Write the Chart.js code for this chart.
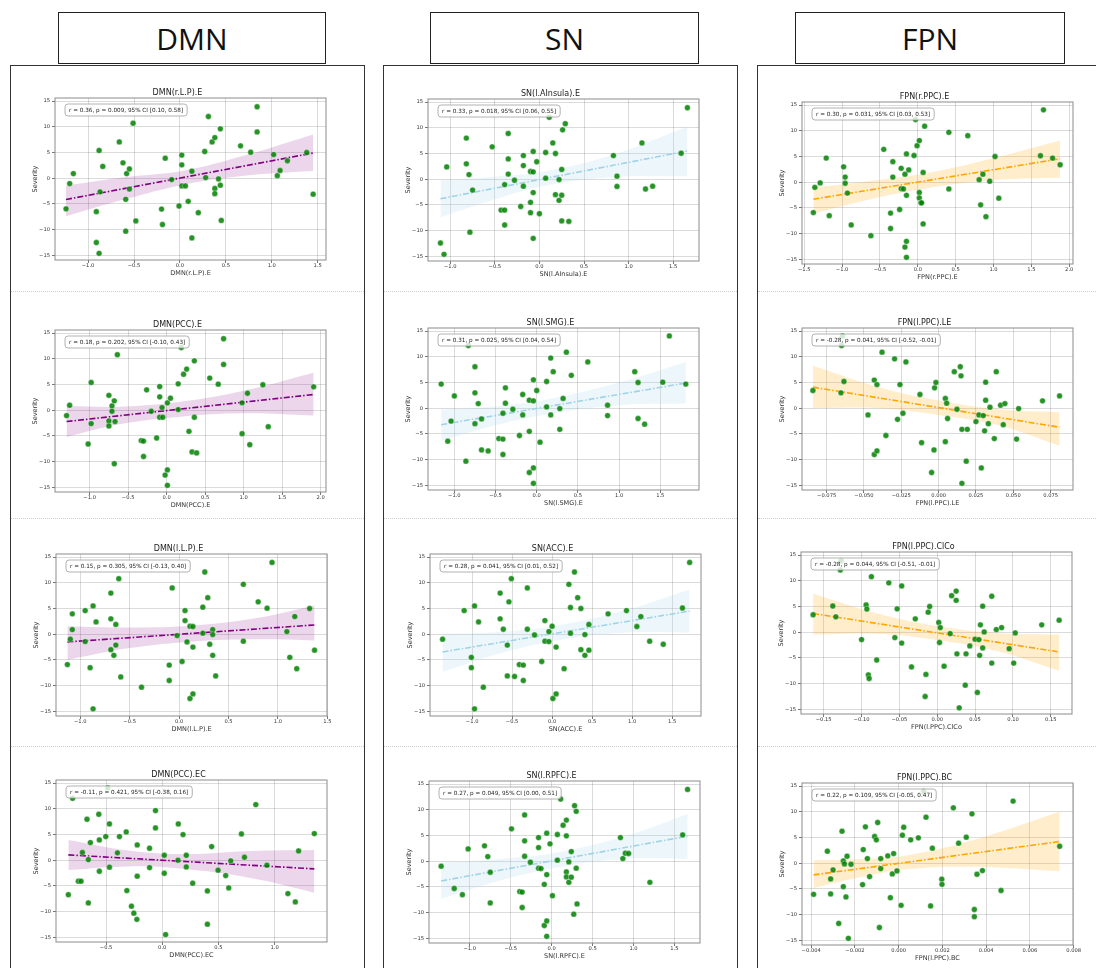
<!DOCTYPE html>
<html>
<head>
<meta charset="utf-8">
<script src="https://cdn.jsdelivr.net/npm/chart.js@4"></script>
<style>
body{margin:0;background:#fff;width:1096px;height:968px;overflow:hidden;position:relative}
.head{position:absolute;top:12px;height:52px;box-sizing:border-box;border:1.5px solid #222;background:#fff;
  font:30px "Open Sans","Liberation Sans",Arial,sans-serif;display:flex;align-items:center;justify-content:center;color:#111}
.panel{position:absolute;top:65px;height:960px;box-sizing:border-box;border:1px solid #333}
.sep{position:absolute;height:0;border-top:1px dotted #cfcfcf}
canvas{position:absolute}
</style>
</head>
<body>
<div class="panel" style="left:10px;width:355px"></div>
<div class="panel" style="left:383px;width:355px"></div>
<div class="panel" style="left:757px;width:345px"></div>
<div class="head" style="left:58px;width:268px">DMN</div>
<div class="head" style="left:430px;width:269px">SN</div>
<div class="head" style="left:795px;width:270px">FPN</div>
<script>
// scatter points [x, severity]
const dmnRLP = [[-1.24,-5.95],[-1.20,-1.04],[-1.16,0.9],[-0.88,5.4],[-0.84,2.3],[-0.87,-2.65],[-0.91,-6.5],[-0.91,-12.5],[-0.88,-14.6],[-0.66,7.05],[-0.62,3.0],[-0.58,0.9],[-0.55,1.8],[-0.55,-2.1],[-0.59,-4.1],[-0.59,-10.3],[-0.51,10.7],[-0.48,-8.3],[-0.20,-6.0],[-0.19,-9.0],[-0.16,3.9],[-0.09,-0.26],[-0.01,-5.4],[0.02,4.5],[0.02,2.6],[0.02,-1.5],[0.06,-1.5],[0.09,-4.5],[0.13,1.36],[0.13,-11.6],[0.20,-6.7],[0.27,5.2],[0.28,0.13],[0.31,12.0],[0.35,7.05],[0.38,7.9],[0.38,-2.0],[0.38,-3.0],[0.42,-0.13],[0.44,9.6],[0.44,-1.36],[0.45,-8.2],[0.66,6.3],[0.77,5.05],[0.84,9.0],[0.84,13.9],[1.02,4.6],[1.06,0.5],[1.09,1.5],[1.17,3.4],[1.38,5.0],[1.45,-3.1]];
const snLAIns = [[-1.11,-12.4],[-1.07,-14.6],[-1.04,2.4],[-0.82,8.0],[-0.82,3.0],[-0.79,0.9],[-0.78,-10.3],[-0.75,-2.1],[-0.53,6.3],[-0.39,-1.04],[-0.35,8.9],[-0.35,3.95],[-0.35,1.0],[-0.43,-6.0],[-0.39,-6.0],[-0.39,-8.9],[-0.28,-0.2],[-0.21,-5.3],[-0.18,4.6],[-0.18,2.66],[-0.18,-1.36],[-0.10,1.5],[-0.07,1.43],[-0.10,-4.5],[-0.10,-6.5],[-0.07,5.4],[-0.07,-2.6],[-0.07,-11.5],[-0.03,3.4],[0.00,-6.7],[0.07,5.2],[0.07,0.2],[0.11,12.05],[0.15,7.06],[0.18,5.0],[0.18,-3.0],[0.22,-0.06],[0.22,-4.1],[0.25,1.9],[0.25,-3.1],[0.25,-8.1],[0.26,9.6],[0.29,10.8],[0.33,-8.2],[0.83,4.6],[0.87,0.6],[0.87,-1.4],[1.15,7.06],[1.19,-1.9],[1.27,-1.36],[1.59,5.05],[1.66,13.9]];
const fpnRPPC = [[-1.38,-5.9],[-1.36,-1.0],[-1.29,-0.13],[-1.21,4.7],[-1.17,-6.5],[-0.98,3.0],[-0.96,1.0],[-0.96,-0.2],[-0.93,-2.1],[-0.88,-8.3],[-0.62,-10.4],[-0.45,6.4],[-0.33,4.0],[-0.33,1.0],[-0.36,-6.0],[-0.36,-9.0],[-0.24,-5.3],[-0.22,2.7],[-0.22,-1.24],[-0.19,-1.3],[-0.17,1.56],[-0.15,5.5],[-0.15,-2.54],[-0.15,-11.5],[-0.17,-12.6],[-0.15,-14.6],[-0.12,2.4],[-0.05,5.2],[-0.03,12.2],[-0.01,7.1],[0.02,8.1],[0.02,-2.0],[0.02,-3.06],[0.04,-4.0],[0.05,-4.0],[0.07,1.9],[0.07,-8.1],[0.09,10.9],[0.41,9.7],[0.41,-1.3],[0.66,9.06],[0.81,0.5],[0.83,-4.4],[0.86,1.56],[0.90,-6.7],[0.95,0.2],[1.02,5.0],[1.07,-3.1],[1.62,5.15],[1.78,4.7],[1.88,3.4],[1.66,14.07]];
const dmnPCCE = [[-1.30,-1.04],[-1.26,0.98],[-1.02,-6.57],[-0.98,5.4],[-0.98,-2.6],[-0.75,2.9],[-0.75,-2.08],[-0.75,-3.06],[-0.71,0.85],[-0.71,-0.2],[-0.68,1.82],[-0.67,-2.2],[-0.68,-10.4],[-0.64,10.8],[-0.33,-5.9],[-0.30,-6.0],[-0.30,-9.0],[-0.26,3.97],[-0.20,-0.2],[-0.13,-5.4],[-0.09,4.6],[-0.09,2.6],[-0.09,-1.37],[-0.05,-1.37],[-0.06,0.52],[-0.02,-12.6],[0.01,-11.6],[0.01,-14.6],[0.01,1.43],[0.05,2.34],[0.15,5.14],[0.15,0.13],[0.19,12.2],[0.22,7.0],[0.26,8.0],[0.29,-4.1],[0.33,-8.1],[0.36,-1.37],[0.36,9.6],[0.39,-8.3],[0.56,6.25],[0.67,5.07],[0.74,8.9],[0.74,13.9],[0.98,-4.55],[0.98,1.43],[1.05,3.3],[1.08,-6.7],[1.25,4.95],[1.32,-3.2],[1.91,4.55]];
const snLSMG = [[-1.16,4.7],[-1.08,-6.4],[-1.04,-2.5],[-1.00,2.4],[-0.86,-10.3],[-0.83,12.2],[-0.75,8.07],[-0.75,3.0],[-0.75,-3.0],[-0.71,0.9],[-0.67,-2.08],[-0.67,-8.1],[-0.59,-8.3],[-0.46,-5.9],[-0.41,-6.0],[-0.41,-9.0],[-0.41,-0.98],[-0.38,3.97],[-0.38,0.98],[-0.29,-0.2],[-0.21,-5.3],[-0.17,2.67],[-0.17,-1.3],[-0.09,1.56],[-0.04,1.43],[-0.09,-4.5],[-0.09,-12.5],[-0.04,5.53],[-0.04,-11.6],[-0.04,-14.6],[0.00,3.45],[0.04,-6.6],[0.12,5.2],[0.12,0.26],[0.17,9.76],[0.17,-1.3],[0.20,7.1],[0.28,-0.07],[0.28,-4.1],[0.32,1.9],[0.36,10.9],[0.42,6.4],[0.62,9.0],[0.86,0.6],[0.86,-1.43],[1.19,7.1],[1.23,5.0],[1.23,-2.0],[1.31,-3.1],[1.53,5.07],[1.61,14.05],[1.81,4.7]];
const fpnLPPCLE = [[-0.0842,3.45],[-0.0654,3.0],[-0.0650,12.2],[-0.0643,14.05],[-0.0634,5.2],[-0.0473,-1.3],[-0.0431,5.47],[-0.0431,-9.0],[-0.0413,4.6],[-0.0413,-8.3],[-0.0379,10.9],[-0.0353,-5.3],[-0.0295,9.6],[-0.0275,-2.15],[-0.0259,4.6],[-0.0239,-0.98],[-0.0219,9.0],[-0.0125,2.67],[-0.0114,-6.7],[-0.0047,-12.5],[-0.0031,-8.1],[-0.0027,3.97],[-0.0018,5.0],[0.0045,1.89],[0.0054,0.98],[0.0045,-6.5],[0.0060,-2.0],[0.0105,7.1],[0.0123,-0.2],[0.0145,8.07],[0.0150,6.3],[0.0156,-4.1],[0.0156,-14.6],[0.0192,-4.1],[0.0185,-10.3],[0.0250,-2.6],[0.0270,-1.3],[0.0286,-11.6],[0.0299,-1.43],[0.0308,-4.4],[0.0315,1.56],[0.0315,5.07],[0.0333,-3.0],[0.0344,0.2],[0.0373,-5.9],[0.0386,7.1],[0.0415,0.59],[0.0433,-3.2],[0.0444,0.9],[0.0522,-6.0],[0.0536,-0.07],[0.0696,1.43],[0.0810,2.4]];
const dmnLLP = [[-1.13,-5.9],[-1.10,-0.97],[-1.08,3.96],[-1.08,0.9],[-0.95,4.6],[-0.95,-1.43],[-0.90,-6.5],[-0.87,5.5],[-0.87,-14.5],[-0.84,2.4],[-0.69,8.0],[-0.69,3.0],[-0.69,-3.0],[-0.66,-4.1],[-0.64,1.9],[-0.64,-2.1],[-0.61,10.8],[-0.59,-8.3],[-0.38,-10.3],[-0.10,-6.0],[-0.10,-9.0],[-0.07,9.0],[-0.02,-0.26],[0.03,-5.3],[0.06,4.6],[0.06,2.66],[0.08,-1.5],[0.11,-12.5],[0.11,1.56],[0.14,-2.5],[0.14,1.5],[0.14,-11.6],[0.24,5.26],[0.24,0.2],[0.26,12.1],[0.29,7.1],[0.31,-1.95],[0.34,-4.1],[0.34,0.9],[0.34,-0.06],[0.37,-8.1],[0.65,9.7],[0.65,-1.36],[0.80,6.3],[0.89,5.06],[0.94,13.96],[1.09,0.52],[1.12,-4.5],[1.17,3.44],[1.19,-6.7],[1.32,5.0],[1.37,-3.1]];
const snACC = [[-1.37,-0.97],[-1.10,4.6],[-1.01,-4.5],[-1.01,-6.5],[-0.97,5.5],[-0.97,-14.5],[-0.92,2.4],[-0.86,-10.3],[-0.65,8.0],[-0.65,3.0],[-0.61,0.97],[-0.56,-2.1],[-0.56,-8.1],[-0.54,6.3],[-0.51,10.8],[-0.47,-8.2],[-0.41,-5.9],[-0.36,-6.0],[-0.36,-9.0],[-0.31,9.0],[-0.31,0.97],[-0.22,-0.13],[-0.13,-5.3],[-0.09,2.66],[-0.09,-1.36],[-0.04,-1.43],[-0.04,0.52],[0.00,1.56],[0.01,-12.5],[0.05,-11.6],[0.05,-2.5],[0.15,-6.7],[0.21,9.7],[0.23,5.2],[0.23,0.2],[0.28,12.1],[0.32,7.1],[0.36,5.0],[0.36,-3.0],[0.41,-4.1],[0.41,-0.06],[0.46,1.9],[0.46,-3.1],[0.70,3.96],[0.93,4.6],[1.06,1.5],[1.11,3.44],[1.22,-1.36],[1.39,-1.95],[1.63,5.1],[1.72,13.96]];
const fpnLPPCClCo = [[-0.164,3.4],[-0.138,5.1],[-0.134,3.0],[-0.128,12.1],[-0.127,13.9],[-0.100,-1.43],[-0.094,5.3],[-0.093,4.5],[-0.091,-8.3],[-0.090,-9.0],[-0.087,10.8],[-0.080,-5.4],[-0.064,9.6],[-0.056,-1.04],[-0.053,4.55],[-0.047,-2.1],[-0.047,9.0],[-0.034,-6.75],[-0.029,2.6],[-0.015,-8.2],[-0.016,-12.5],[-0.012,3.9],[-0.010,5.0],[0.002,1.9],[0.004,0.9],[0.003,-2.0],[0.009,-6.6],[0.017,-0.26],[0.019,7.1],[0.025,8.0],[0.025,6.2],[0.026,-4.2],[0.029,-14.7],[0.038,-4.2],[0.037,-10.3],[0.043,-2.66],[0.050,-1.36],[0.053,-11.7],[0.055,-1.43],[0.056,-4.5],[0.057,1.43],[0.060,5.07],[0.060,-3.05],[0.062,0.06],[0.072,-6.0],[0.072,7.0],[0.078,0.52],[0.085,0.9],[0.095,-3.2],[0.101,-6.0],[0.103,-0.13],[0.138,1.43],[0.161,2.34]];
const dmnPCCEC = [[-0.836,-6.7],[-0.798,12.05],[-0.711,1.5],[-0.747,-4.08],[-0.723,-4.08],[-0.670,7.97],[-0.658,0.13],[-0.658,-8.3],[-0.640,3.43],[-0.565,8.94],[-0.560,3.95],[-0.560,-2.14],[-0.503,4.6],[-0.485,14.06],[-0.470,7.06],[-0.470,-1.36],[-0.399,1.43],[-0.381,4.6],[-0.321,5.5],[-0.315,-5.9],[-0.274,-8.94],[-0.253,-10.3],[-0.226,-11.5],[-0.223,2.98],[-0.223,-3.1],[-0.113,2.33],[-0.113,-1.43],[-0.060,9.66],[-0.060,6.29],[0.018,0.97],[0.018,-2.53],[0.030,-14.45],[0.143,7.06],[0.140,0.0],[0.185,4.99],[0.214,0.97],[0.214,-1.3],[0.271,-4.47],[0.402,-5.96],[0.402,-12.44],[0.440,2.66],[0.497,-1.94],[0.565,-2.98],[0.592,-5.38],[0.610,-0.13],[0.705,5.12],[0.732,0.58],[0.833,10.82],[0.932,-0.97],[1.119,-6.48],[1.185,-8.1],[1.214,1.81],[1.354,5.18]];
const snLRPFC = [[-1.35,-0.97],[-1.19,-5.3],[-1.09,-6.5],[-1.02,2.4],[-0.82,3.0],[-0.78,0.9],[-0.75,-2.14],[-0.75,-8.1],[-0.49,6.3],[-0.39,-5.9],[-0.36,-6.0],[-0.36,-9.0],[-0.33,9.0],[-0.33,3.96],[-0.33,0.97],[-0.26,-0.2],[-0.16,4.6],[-0.16,2.66],[-0.16,-1.36],[-0.13,-1.43],[-0.09,-4.5],[-0.09,-12.5],[-0.06,5.45],[-0.06,-2.6],[-0.06,-11.6],[-0.06,-14.6],[-0.02,3.38],[0.01,-6.7],[0.07,5.2],[0.07,0.2],[0.11,12.1],[0.14,7.0],[0.18,8.0],[0.18,4.94],[0.18,-2.08],[0.18,-3.05],[0.21,-0.13],[0.21,-4.1],[0.24,1.88],[0.24,-3.1],[0.27,-10.3],[0.28,10.8],[0.30,9.7],[0.30,-1.36],[0.31,-8.3],[0.84,4.6],[0.87,0.52],[0.90,1.56],[0.94,1.5],[1.20,-4.1],[1.60,5.13],[1.66,13.96]];
const fpnLPPCBC = [[-0.00389,-6.04],[-0.00326,2.34],[-0.00311,-3.05],[-0.00311,-5.97],[-0.00300,-1.3],[-0.00274,-11.7],[-0.00259,6.23],[-0.00253,0.45],[-0.00253,-4.55],[-0.00248,-0.13],[-0.00241,-6.56],[-0.00236,1.36],[-0.00230,-14.6],[-0.00218,-0.2],[-0.00162,2.66],[-0.00165,-4.16],[-0.00152,7.08],[-0.00143,0.9],[-0.00133,-2.6],[-0.00110,5.2],[-0.00102,4.55],[-0.00096,7.92],[-0.00088,-12.5],[-0.00082,0.9],[-0.00082,-1.04],[-0.00050,1.43],[-0.00038,-6.7],[-0.00029,-2.08],[-0.00023,1.88],[-0.00008,-1.5],[0.00011,-8.18],[0.00017,5.45],[0.00023,7.0],[0.00055,4.55],[0.00090,4.94],[0.00114,13.96],[0.00125,8.96],[0.00146,-8.3],[0.00154,2.92],[0.00197,-3.1],[0.00198,-4.1],[0.00250,10.78],[0.00274,3.9],[0.00309,5.06],[0.00335,9.6],[0.00346,-9.0],[0.00346,-10.4],[0.00358,-2.14],[0.00383,-1.43],[0.00468,-5.3],[0.00523,12.08],[0.00736,3.3]];

// regression line end points [x, y]
const dmnRLPFit = [[-1.24,-4.14],[1.45,4.9]];
const snLAInsFit = [[-1.11,-3.8],[1.66,5.5]];
const fpnRPPCFit = [[-1.38,-3.3],[1.88,4.56]];
const dmnPCCEFit = [[-1.30,-2.2],[1.91,3.06]];
const snLSMGFit = [[-1.16,-3.2],[1.81,4.9]];
const fpnLPPCLEFit = [[-0.0842,4.1],[0.081,-3.7]];
const dmnLLPFit = [[-1.13,-1.5],[1.37,1.8]];
const snACCFit = [[-1.37,-3.44],[1.72,4.5]];
const fpnLPPCClCoFit = [[-0.164,3.64],[0.161,-3.83]];
const dmnPCCECFit = [[-0.836,1.04],[1.354,-1.68]];
const snLRPFCFit = [[-1.35,-3.83],[1.66,4.87]];
const fpnLPPCBCFit = [[-0.00389,-2.27],[0.00736,4.22]];

// 95% confidence band [x, lower, upper]
const dmnRLPBand = [[-1.24,-7.4,-1.4],[-0.6,-4.1,0.2],[0.05,-1.2,1.5],[0.7,0.5,4.4],[1.45,1.4,8.5]];
const snLAInsBand = [[-1.11,-7.4,-0.2],[-0.5,-3.9,0.5],[0.05,-1.3,1.5],[0.8,0.4,4.6],[1.66,0.6,10.2]];
const fpnRPPCBand = [[-1.38,-6.1,-1.0],[-0.6,-3.2,0.3],[0.1,-1.2,1.7],[0.9,0.3,4.3],[1.88,0.9,8.1]];
const dmnPCCEBand = [[-1.30,-5.2,0.8],[-0.6,-2.7,0.7],[0.15,-1.3,1.6],[1.0,-0.6,3.8],[1.91,-1.04,7.3]];
const snLSMGBand = [[-1.16,-6.3,-0.26],[-0.5,-3.3,0.4],[0.15,-1.1,1.8],[1.0,0.6,5.0],[1.81,0.9,9.0]];
const fpnLPPCLEBand = [[-0.0842,0.0,8.26],[-0.04,0.0,4.1],[0.0,-1.3,1.5],[0.04,-3.3,-0.2],[0.081,-7.3,-0.78]];
const dmnLLPBand = [[-1.13,-5.0,1.56],[-0.5,-2.7,1.3],[0.15,-1.4,1.7],[0.8,-1.0,3.2],[1.37,-1.2,5.6]];
const snACCBand = [[-1.37,-7.3,0.06],[-0.6,-3.5,0.5],[0.1,-1.1,1.8],[0.9,0.3,4.6],[1.72,0.3,8.7]];
const fpnLPPCClCoBand = [[-0.164,-0.45,7.5],[-0.08,-0.3,3.7],[0.0,-1.5,1.2],[0.08,-3.7,-0.2],[0.161,-7.5,-0.45]];
const dmnPCCECBand = [[-0.836,-1.88,3.95],[-0.3,-1.2,1.9],[0.2,-1.7,1.2],[0.8,-3.5,1.8],[1.354,-6.3,2.0]];
const snLRPFCBand = [[-1.35,-7.3,-0.3],[-0.6,-3.6,0.5],[0.1,-1.1,1.8],[0.9,0.5,4.9],[1.66,0.45,9.2]];
const fpnLPPCBCBand = [[-0.00389,-4.8,0.58],[-0.0015,-2.5,0.8],[0.0005,-1.1,1.6],[0.0035,-0.7,4.6],[0.00736,-1.56,10.0]];

// tick labels
const tickA = [-1.0,-0.5,0.0,0.5,1.0,1.5];
const tickB = [-1.5,-1.0,-0.5,0.0,0.5,1.0,1.5,2.0];
const tickC = [-1.0,-0.5,0.0,0.5,1.0,1.5,2.0];
const tickLE = [-0.075,-0.05,-0.025,0,0.025,0.05,0.075];
const tickClCo = [-0.15,-0.10,-0.05,0,0.05,0.10,0.15];
const tickEC = [-0.5,0.0,0.5,1.0];
const tickBC = [-0.004,-0.002,0,0.002,0.004,0.006,0.008];
const sevTicks = [-15,-10,-5,0,5,10,15];

const titles = ['DMN(r.L.P).E','SN(l.AInsula).E','FPN(r.PPC).E','DMN(PCC).E','SN(l.SMG).E','FPN(l.PPC).LE',
  'DMN(l.L.P).E','SN(ACC).E','FPN(l.PPC).ClCo','DMN(PCC).EC','SN(l.RPFC).E','FPN(l.PPC).BC'];
const stats = ['r = 0.36, p = 0.009, 95% CI [0.10, 0.58]','r = 0.33, p = 0.018, 95% CI [0.06, 0.55]','r = 0.30, p = 0.031, 95% CI [0.03, 0.53]',
  'r = 0.18, p = 0.202, 95% CI [-0.10, 0.43]','r = 0.31, p = 0.025, 95% CI [0.04, 0.54]','r = -0.28, p = 0.041, 95% CI [-0.52, -0.01]',
  'r = 0.15, p = 0.305, 95% CI [-0.13, 0.40]','r = 0.28, p = 0.041, 95% CI [0.01, 0.52]','r = -0.28, p = 0.044, 95% CI [-0.51, -0.01]',
  'r = -0.11, p = 0.421, 95% CI [-0.38, 0.16]','r = 0.27, p = 0.049, 95% CI [0.00, 0.51]','r = 0.22, p = 0.109, 95% CI [-0.05, 0.47]'];
const points = [dmnRLP,snLAIns,fpnRPPC,dmnPCCE,snLSMG,fpnLPPCLE,dmnLLP,snACC,fpnLPPCClCo,dmnPCCEC,snLRPFC,fpnLPPCBC];
const fits = [dmnRLPFit,snLAInsFit,fpnRPPCFit,dmnPCCEFit,snLSMGFit,fpnLPPCLEFit,dmnLLPFit,snACCFit,fpnLPPCClCoFit,dmnPCCECFit,snLRPFCFit,fpnLPPCBCFit];
const bands = [dmnRLPBand,snLAInsBand,fpnRPPCBand,dmnPCCEBand,snLSMGBand,fpnLPPCLEBand,dmnLLPBand,snACCBand,fpnLPPCClCoBand,dmnPCCECBand,snLRPFCBand,fpnLPPCBCBand];
const xTicks = [tickA,tickA,tickB,tickC,tickA,tickLE,tickA,tickA,tickClCo,tickEC,tickA,tickBC];
const xRange = [[-1.36,1.59],[-1.25,1.79],[-1.53,2.05],[-1.45,2.07],[-1.32,1.97],[-0.0915,0.090],
  [-1.245,1.496],[-1.527,1.862],[-0.180,0.178],[-0.946,1.467],[-1.498,1.812],[-0.00442,0.00797]];
const xDec = [1,1,1,1,1,3,1,1,2,1,1,3];

// styling per network column
const netStyle = [
  {line:'#800080', band:'rgba(128,0,128,0.16)'},
  {line:'#9fd3e6', band:'rgba(173,216,230,0.22)'},
  {line:'#ffa500', band:'rgba(255,165,0,0.2)'}
];
// plot area top-left for each panel
const plotPos = [[55,98],[428,99],[802,102],[55,330],[428,328],[802,328],[56,554],[430,554],[801,552],[56,780],[429,781],[802,783]];
const plotW = 271, plotH = 162, yAxW = 26, xAxH = 19, topH = 12, rightPad = 9;

const FONT = '"DejaVu Sans", sans-serif';
const minus = (v, d) => (v < -1e-12 ? '\u2212' : '') + Math.abs(v).toFixed(d);

const frame = {
  id: 'frame',
  afterDatasetsDraw(chart, args, opts) {
    const {ctx, chartArea: a} = chart;
    ctx.save();
    ctx.strokeStyle = '#8c8c8c';
    ctx.lineWidth = 1;
    ctx.strokeRect(a.left, a.top, a.right - a.left, a.bottom - a.top);
    ctx.font = '5.7px ' + FONT;
    const w = ctx.measureText(opts.text).width + 8;
    const x = a.left + 10, y = a.top + 6;
    ctx.beginPath();
    ctx.roundRect(x, y, w, 12, 3);
    ctx.fillStyle = 'rgba(255,255,255,0.8)';
    ctx.fill();
    ctx.strokeStyle = '#a0a0a0';
    ctx.lineWidth = 0.8;
    ctx.stroke();
    ctx.fillStyle = '#222';
    ctx.textBaseline = 'middle';
    ctx.fillText(opts.text, x + 4, y + 6.3);
    ctx.restore();
  }
};

// row separators
[291, 518, 746].forEach(y => {
  [[11,353],[384,353],[758,340]].forEach(([l, w]) => {
    const d = document.createElement('div');
    d.className = 'sep';
    d.style.cssText = `top:${y}px;left:${l}px;width:${w}px`;
    document.body.appendChild(d);
  });
});

points.forEach((pts, i) => {
  const st = netStyle[i % 3];
  const [pl, pt] = plotPos[i];
  const cv = document.createElement('canvas');
  const W = yAxW + plotW + rightPad, H = topH + plotH + xAxH;
  cv.width = W; cv.height = H;
  cv.style.cssText = `left:${pl - yAxW}px;top:${pt - topH}px;width:${W}px;height:${H}px`;
  document.body.appendChild(cv);

  const band = bands[i];
  new Chart(cv, {
    type: 'scatter',
    data: {
      datasets: [
        {type:'line', data: band.map(b => ({x:b[0], y:b[2]})), borderWidth:0, pointRadius:0, tension:0.4,
          backgroundColor: st.band, fill:'+1', order:3},
        {type:'line', data: band.map(b => ({x:b[0], y:b[1]})), borderWidth:0, pointRadius:0, tension:0.4,
          fill:false, order:3},
        {type:'line', data: fits[i].map(p => ({x:p[0], y:p[1]})), borderColor: st.line, borderWidth:1.6,
          borderDash:[6,2,1.5,2], pointRadius:0, fill:false, order:2},
        {data: pts.map(p => ({x:p[0], y:p[1]})), backgroundColor:'rgba(0,128,0,0.85)',
          borderColor:'rgba(255,255,255,0.7)', borderWidth:0.5, pointRadius:2.9, order:1}
      ]
    },
    options: {
      responsive:false, animation:false, devicePixelRatio:1,
      layout:{padding:{left:0, right:rightPad, top:0, bottom:0}},
      plugins:{
        legend:{display:false}, tooltip:{enabled:false},
        title:{display:true, text:titles[i], color:'#222', font:{family:FONT, size:8, weight:'normal'}, padding:{top:2.4, bottom:0}},
        frame:{text:stats[i]}
      },
      scales:{
        x:{type:'linear', min:xRange[i][0], max:xRange[i][1],
          afterBuildTicks: s => { s.ticks = xTicks[i].map(v => ({value:v})); },
          afterFit: s => { s.height = xAxH; },
          ticks:{font:{family:FONT, size:5.2}, color:'#333', padding:0, maxRotation:0, autoSkip:false,
            callback: v => minus(v, xDec[i])},
          grid:{color:'rgba(0,0,0,0.14)', tickLength:3, tickColor:'#777'},
          border:{display:false},
          title:{display:true, text:titles[i], color:'#333', font:{family:FONT, size:6.5}, padding:{top:0, bottom:2}}},
        y:{min:-15.9, max:15.6,
          afterBuildTicks: s => { s.ticks = sevTicks.map(v => ({value:v})); },
          afterFit: s => { s.width = yAxW; },
          ticks:{font:{family:FONT, size:5.2}, color:'#333', padding:2, callback: v => minus(v, 0)},
          grid:{color:'rgba(0,0,0,0.14)', tickLength:3, tickColor:'#777'},
          border:{display:false},
          title:{display:true, text:'Severity', color:'#333', font:{family:FONT, size:6.5}, padding:{top:2, bottom:0}}}
      }
    },
    plugins:[frame]
  });
});
</script>
</body>
</html>
